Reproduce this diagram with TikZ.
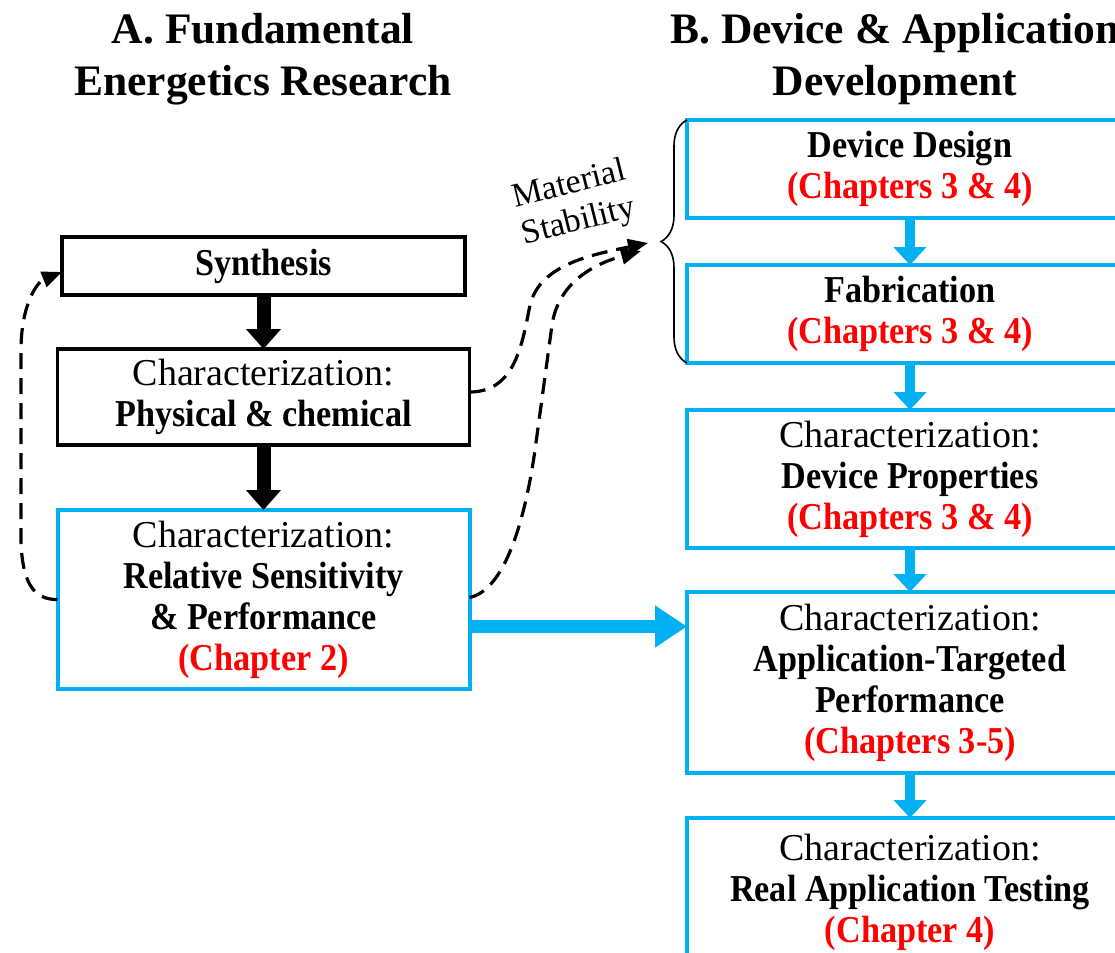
\documentclass[tikz,border=0pt]{standalone}
\usepackage{fontspec}
\setmainfont{Liberation Serif}[BoldFeatures={FakeStretch=0.9}]
\newfontfamily\headfont{Liberation Serif}
\usetikzlibrary{arrows.meta,positioning,calc,decorations.pathreplacing}
\definecolor{ThBlue}{HTML}{00B0F0}
\definecolor{ThRed}{HTML}{FF0000}
\newcommand{\chap}[1]{{\color{ThRed}\textbf{#1}}}

\begin{document}
\begin{tikzpicture}[x=0.5pt,y=-0.5pt,font=\fontsize{19}{20.5}\selectfont,
  kbox/.style={draw=black,line width=1.6pt,align=center,inner sep=2pt,outer sep=0pt,fill=white},
  bbox/.style={kbox,draw=ThBlue,line width=2pt,minimum width=223pt},
  karrow/.style={-{Triangle[width=17pt,length=10pt]},line width=7pt},
  barrow/.style={-{Triangle[width=16pt,length=9pt]},line width=5pt,draw=ThBlue,fill=ThBlue},
  bigarrow/.style={-{Triangle[width=20pt,length=16pt]},line width=6.5pt,draw=ThBlue,fill=ThBlue},
  dasharrow/.style={-{Triangle[width=8pt,length=10pt]},line width=1.6pt,dash pattern=on 8pt off 4.5pt}]
  \clip (0,0) rectangle (1115,953);
  % titles
  \node[align=center,font=\headfont\bfseries\fontsize{21.75}{26}\selectfont] (headA) at (263,59) {A. Fundamental\\Energetics Research};
  \node[align=center,font=\headfont\bfseries\fontsize{21.75}{26}\selectfont] (headB) at (895,59) {B. Device \& Application\\Development};
  % left column
  \node[kbox,minimum width=201.5pt,minimum height=29pt] (synth) at (263.5,266) {\textbf{Synthesis}};
  \node[kbox,below=27pt of synth,minimum width=206pt,minimum height=48pt] (phys) {Characterization:\\\textbf{Physical \& chemical}};
  \node[kbox,draw=ThBlue,line width=2pt,below=32.5pt of phys,minimum width=206pt,minimum height=89.5pt] (rel) {Characterization:\\\textbf{Relative Sensitivity}\\\textbf{\& Performance}\\\chap{(Chapter 2)}};
  % right column
  \node[bbox,minimum height=49pt] (design) at (910,169) {\textbf{Device Design}\\\chap{(Chapters 3 \& 4)}};
  \node[bbox,below=23.5pt of design,minimum height=49pt] (fab) {\textbf{Fabrication}\\\chap{(Chapters 3 \& 4)}};
  \node[bbox,below=23.5pt of fab,minimum height=69pt] (props) {Characterization:\\\textbf{Device Properties}\\\chap{(Chapters 3 \& 4)}};
  \node[bbox,below=22pt of props,minimum height=90.5pt] (app) {Characterization:\\\textbf{Application-Targeted}\\\textbf{Performance}\\\chap{(Chapters 3-5)}};
  \node[bbox,below=22.5pt of app,minimum height=74pt] (real) {Characterization:\\\textbf{Real Application Testing}\\\chap{(Chapter 4)}};
  % flow arrows
  \draw[karrow] (synth) -- (phys);
  \draw[karrow] (phys) -- (rel);
  \draw[barrow] (design) -- (fab);
  \draw[barrow] (fab) -- (props);
  \draw[barrow] (props) -- (app);
  \draw[barrow] (app) -- (real);
  \draw[bigarrow] ([yshift=-13.5pt]rel.east) coordinate (hb) -- (hb -| app.west);
  % brace and feedback
  \draw[decorate,decoration={brace,amplitude=13pt},line width=0.8pt] (fab.south west) -- (design.north west);
  \coordinate (stabA) at (648,243);
  \coordinate (stabB) at (641,251);
  \node[rotate=14,align=center,inner sep=0pt,font=\fontsize{17}{19}\selectfont] (stablbl) at (574,204) {Material\\Stability};
  \draw[dasharrow] (rel.west) .. controls (32,600) and (22,580) .. (21,540) -- (21,350) .. controls (21,305) and (37,282) .. ([yshift=-3pt]synth.west);
  \draw[dasharrow] ([yshift=2.5pt]phys.east) .. controls (515,392) and (522,345) .. (530,305) .. controls (540,265) and (590,255) .. (stabA);
  \draw[dasharrow] ([yshift=1pt]rel.east) .. controls (505,590) and (525,520) .. (535,450) -- (552,325) .. controls (558,285) and (590,265) .. (stabB);
\end{tikzpicture}
\end{document}
